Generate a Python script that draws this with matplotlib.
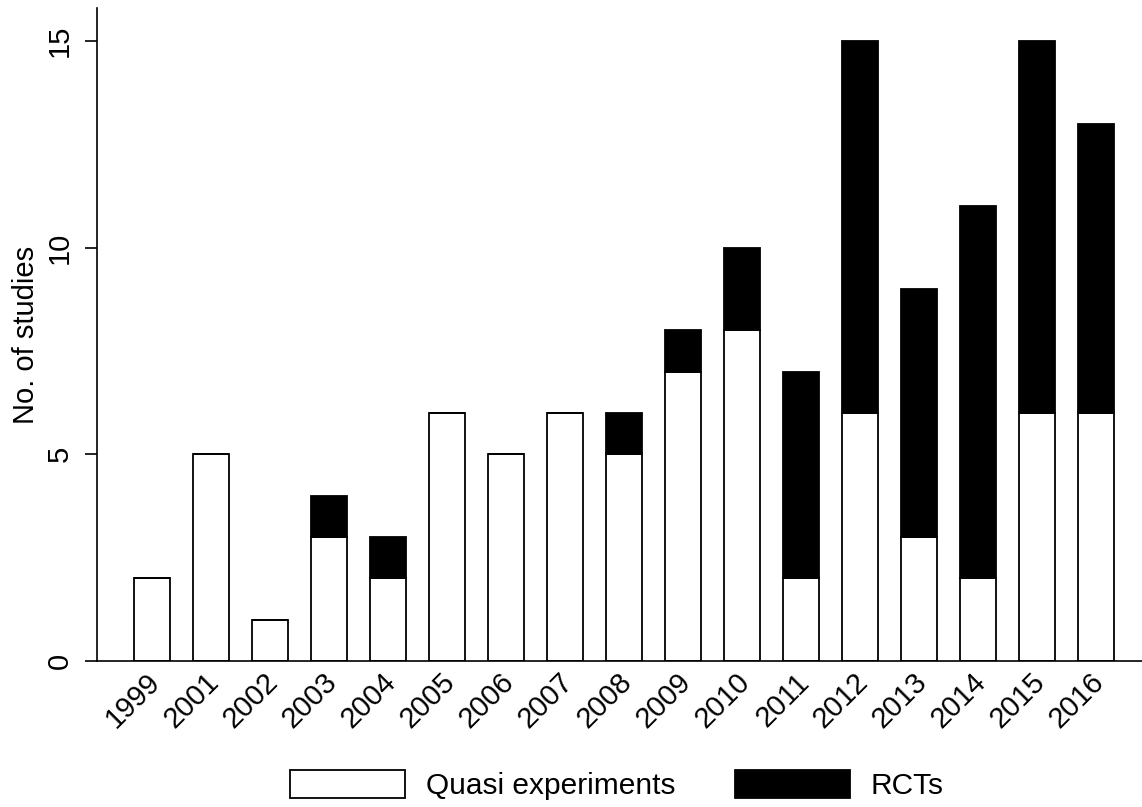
import matplotlib.pyplot as plt
import numpy as np
from matplotlib.patches import Patch
from matplotlib.transforms import ScaledTranslation

plt.rcParams['font.family'] = ['Liberation Sans', 'DejaVu Sans']

years = ['1999', '2001', '2002', '2003', '2004', '2005', '2006', '2007', '2008',
         '2009', '2010', '2011', '2012', '2013', '2014', '2015', '2016']
quasi = [2, 5, 1, 3, 2, 6, 5, 6, 5, 7, 8, 2, 6, 3, 2, 6, 6]
rcts = [0, 0, 0, 1, 1, 0, 0, 0, 1, 1, 2, 5, 9, 6, 9, 9, 7]

fig = plt.figure(figsize=(11.42, 8.07), dpi=100)
ax = fig.add_axes([0.085, 0.181, 0.915, 0.809])

x = np.arange(len(years))
ax.bar(x, quasi, width=0.6, color='white', edgecolor='black', linewidth=1.3)
ax.bar(x, rcts, width=0.6, bottom=quasi, color='black', edgecolor='black', linewidth=1.3)

ax.set_xlim(-0.93, 16.78)
ax.set_ylim(0, 15.8)
ax.set_yticks([0, 5, 10, 15])
ax.set_yticklabels(['0', '5', '10', '15'], rotation=90, va='center', fontsize=21)
ax.set_xticks(x)
ax.set_xticklabels(years, rotation=45, ha='right', va='top', rotation_mode='anchor', fontsize=21)
ax.tick_params(axis='x', length=0, pad=5)
ax.tick_params(axis='y', length=9, width=1.2, pad=8)
ax.set_ylabel('No. of studies', fontsize=21, labelpad=4)

# nudge year labels a bit to the left
shift = ScaledTranslation(-6 / 100, 0, fig.dpi_scale_trans)
for lab in ax.get_xticklabels():
    lab.set_transform(lab.get_transform() + shift)

for s in ['top', 'right']:
    ax.spines[s].set_visible(False)
for s in ['left', 'bottom']:
    ax.spines[s].set_linewidth(1.2)

handles = [Patch(facecolor='white', edgecolor='black', linewidth=1.3, label='Quasi experiments'),
           Patch(facecolor='black', edgecolor='black', linewidth=1.3, label='RCTs')]
fig.legend(handles=handles, loc='center', bbox_to_anchor=(0.54, 0.027), ncol=2,
           frameon=False, fontsize=21.5, handlelength=3.85, handleheight=1.05,
           handletextpad=0.68, columnspacing=2.0)

fig.savefig('out.png', dpi=100)
